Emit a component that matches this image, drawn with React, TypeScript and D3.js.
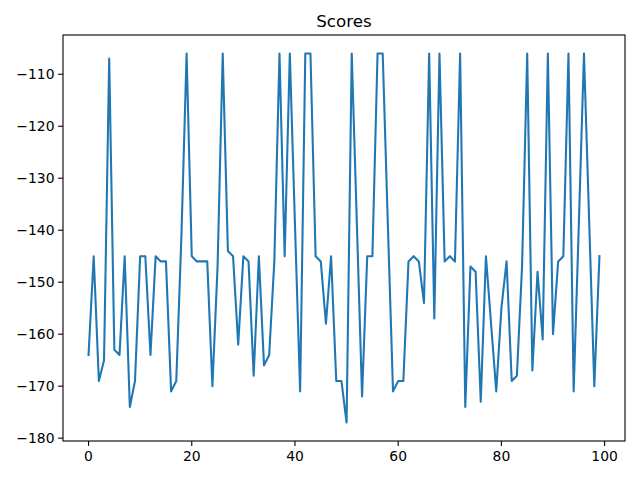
import React from "react";
import * as d3 from "d3";

const scores: number[] = [
  -164, -145, -169, -165, -107, -163, -164, -145, -174, -169,
  -145, -145, -164, -145, -146, -146, -171, -169, -141, -106,
  -145, -146, -146, -146, -170, -147, -106, -144, -145, -162,
  -145, -146, -168, -145, -166, -164, -146, -106, -145, -106,
  -139, -171, -106, -106, -145, -146, -158, -145, -169, -169,
  -177, -106, -139, -172, -145, -145, -106, -106, -139, -171,
  -169, -169, -146, -145, -146, -154, -106, -157, -106, -146,
  -145, -146, -106, -174, -147, -148, -173, -145, -158, -171,
  -155, -146, -169, -168, -147, -106, -167, -148, -161, -106,
  -160, -146, -145, -106, -171, -139, -106, -138, -170, -145,
];
const xTicks: number[] = [0, 20, 40, 60, 80, 100];
const yTicks: number[] = [-110, -120, -130, -140, -150, -160, -170, -180];
const title = "Scores";

const W = 640, H = 480;
const L = 63, R = 625, T = 35, B = 441;
const FONT = "DejaVu Sans, sans-serif";

export default function App() {
  const n = scores.length;
  const xMin = 0, xMax = n - 1;
  const xm = (xMax - xMin) * 0.05;
  const yMin = d3.min(scores)!, yMax = d3.max(scores)!;
  const ym = (yMax - yMin) * 0.05;
  const x = d3.scaleLinear().domain([xMin - xm, xMax + xm]).range([L, R]);
  const y = d3.scaleLinear().domain([yMin - ym, yMax + ym]).range([B, T]);
  const line = d3.line<number>().x((_, i) => x(i)).y((d) => y(d));
  const fmt = (v: number) => (v < 0 ? "\u2212" + Math.abs(v) : String(v));
  return (
    <svg width={W} height={H} style={{ position: "absolute", left: 0, top: 0 }}>
      <rect x={0} y={0} width={W} height={H} fill="#fff" />
      <path d={line(scores) || ""} fill="none" stroke="#1f77b4" strokeWidth={2.08} strokeLinejoin="round" strokeLinecap="square" />
      <rect x={L} y={T} width={R - L} height={B - T} fill="none" stroke="#000" strokeWidth={1.1} />
      {xTicks.map((t) => (
        <g key={"x" + t}>
          <line x1={x(t)} x2={x(t)} y1={B} y2={B + 4.9} stroke="#000" strokeWidth={1.1} />
          <text x={x(t)} y={B + 9} dy="0.76em" textAnchor="middle" fontSize={13.9} fontFamily={FONT}>{fmt(t)}</text>
        </g>
      ))}
      {yTicks.map((t) => (
        <g key={"y" + t}>
          <line x1={L - 4.9} x2={L} y1={y(t)} y2={y(t)} stroke="#000" strokeWidth={1.1} />
          <text x={L - 8.5} y={y(t)} dy="0.35em" textAnchor="end" fontSize={13.9} fontFamily={FONT}>{fmt(t)}</text>
        </g>
      ))}
      <text x={(L + R) / 2} y={T - 8.3} textAnchor="middle" fontSize={16.7} fontFamily={FONT}>{title}</text>
    </svg>
  );
}
